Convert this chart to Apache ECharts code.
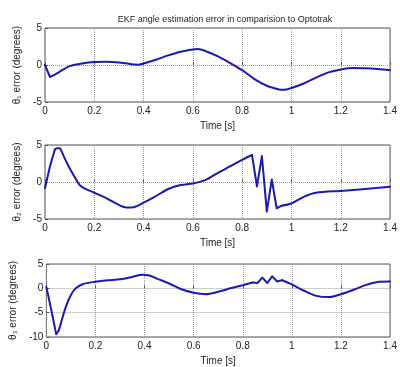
<!DOCTYPE html>
<html>
<head>
<meta charset="utf-8">
<script src="https://cdn.jsdelivr.net/npm/echarts@6/dist/echarts.min.js"></script>
<style>
  html, body { margin: 0; padding: 0; background: #fff; }
  #chart { width: 400px; height: 367px; }
</style>
</head>
<body>
<div id="chart"></div>
<script>
// angle error 1
const t1 = [0, 0.02, 0.04, 0.06, 0.08, 0.1, 0.15, 0.2, 0.25, 0.3, 0.35, 0.38, 0.4, 0.45, 0.5, 0.55, 0.6, 0.62, 0.65, 0.7, 0.75, 0.8, 0.85, 0.9, 0.95, 0.97, 1.0, 1.05, 1.1, 1.15, 1.2, 1.25, 1.3, 1.35, 1.4];
const e1 = [0, -1.6, -1.3, -0.9, -0.5, -0.15, 0.2, 0.4, 0.45, 0.35, 0.1, 0.05, 0.2, 0.7, 1.3, 1.8, 2.1, 2.15, 1.9, 1.2, 0.3, -0.7, -1.9, -2.8, -3.3, -3.35, -3.1, -2.5, -1.7, -1.0, -0.6, -0.4, -0.45, -0.55, -0.7];

// angle error 2
const t2 = [0, 0.02, 0.04, 0.05, 0.06, 0.065, 0.08, 0.1, 0.12, 0.14, 0.16, 0.2, 0.25, 0.3, 0.33, 0.36, 0.4, 0.45, 0.5, 0.55, 0.6, 0.65, 0.7, 0.75, 0.8, 0.84, 0.86, 0.88, 0.9, 0.92, 0.94, 0.96, 1.0, 1.05, 1.1, 1.2, 1.3, 1.4];
const e2 = [-0.8, 2.1, 4.4, 4.55, 4.55, 4.3, 3.2, 1.85, 0.7, -0.4, -0.85, -1.45, -2.2, -3.1, -3.45, -3.4, -2.8, -1.9, -0.95, -0.4, -0.2, 0.25, 1.2, 2.1, 3.0, 3.65, -0.6, 3.5, -4.0, 0.35, -3.55, -3.2, -2.9, -2.0, -1.45, -1.2, -0.95, -0.65];

// angle error 3
const t3 = [0, 0.02, 0.04, 0.05, 0.06, 0.08, 0.1, 0.12, 0.15, 0.2, 0.25, 0.3, 0.35, 0.39, 0.42, 0.45, 0.5, 0.55, 0.6, 0.65, 0.7, 0.75, 0.8, 0.84, 0.86, 0.88, 0.9, 0.92, 0.94, 0.96, 1.0, 1.05, 1.1, 1.15, 1.2, 1.25, 1.3, 1.35, 1.4];
const e3 = [0.3, -4.4, -9.4, -8.7, -7.0, -3.7, -1.35, 0, 0.9, 1.35, 1.65, 1.85, 2.35, 2.8, 2.65, 2.0, 1.0, -0.2, -0.9, -1.2, -0.7, 0, 0.65, 1.2, 1.1, 2.2, 1.1, 2.45, 1.4, 1.65, 0.8, -0.5, -1.55, -1.8, -1.2, -0.35, 0.65, 1.3, 1.4];

// index ranges drawn straight (sharp corners), the rest is smoothed
const sharp1 = [[0, 1]];
const sharp2 = [[0, 2], [25, 31]];
const sharp3 = [[0, 2], [23, 29]];

const xTicks = ["0", "0.2", "0.4", "0.6", "0.8", "1", "1.2", "1.4"];
const yNames = ["θ₁ error (degrees)", "θ₂ error (degrees)", "θ₃ error (degrees)"];
const yMins = [-5, -5, -10];
const yMaxs = [5, 5, 5];

const FONT = "Liberation Sans";
const tops = [28, 145, 264];
const heights = [74, 74, 75];
const series_t = [t1, t2, t3];
const series_e = [e1, e2, e3];
const sharps = [sharp1, sharp2, sharp3];

// split a curve into straight and smooth pieces
function pieces(n, sharp) {
  const out = [];
  let pos = 0;
  sharp.forEach(function (r) {
    if (r[0] > pos) out.push([pos, r[0], true]);
    out.push([r[0], r[1], false]);
    pos = r[1];
  });
  if (pos < n - 1) out.push([pos, n - 1, true]);
  return out;
}

const grids = [], xAxes = [], yAxes = [], series = [];
for (let i = 0; i < 3; i++) {
  grids.push({
    left: 45, right: 5, top: tops[i], height: heights[i],
    show: true, borderColor: "#555", borderWidth: 1, backgroundColor: "#fff"
  });
  xAxes.push({
    type: "value", gridIndex: i, min: 0, max: 1.4, interval: 0.2,
    name: "Time [s]", nameLocation: "middle", nameGap: 19,
    nameTextStyle: { fontFamily: FONT, fontSize: 10, color: "#222" },
    axisLine: { show: false },
    axisTick: { inside: true, length: 3, lineStyle: { color: "#555" } },
    axisLabel: {
      margin: 4, fontFamily: FONT, fontSize: 10, color: "#222",
      formatter: function (v) { return xTicks[Math.round(v / 0.2)]; }
    },
    splitLine: { show: true, lineStyle: { type: "dotted", color: "#999" } }
  });
  yAxes.push({
    type: "value", gridIndex: i, min: yMins[i], max: yMaxs[i], interval: 5,
    name: yNames[i], nameLocation: "middle", nameGap: 16, nameRotate: 90,
    nameTextStyle: { fontFamily: FONT, fontSize: 10, color: "#222" },
    axisLine: { show: false },
    axisTick: { inside: true, length: 3, lineStyle: { color: "#555" } },
    axisLabel: { margin: 3, fontFamily: FONT, fontSize: 10, color: "#222" },
    splitLine: { show: true, lineStyle: { type: "dotted", color: "#999" } }
  });
  const pts = series_t[i].map(function (t, j) { return [t, series_e[i][j]]; });
  pieces(pts.length, sharps[i]).forEach(function (p) {
    series.push({
      type: "line", xAxisIndex: i, yAxisIndex: i,
      data: pts.slice(p[0], p[1] + 1),
      showSymbol: false, smooth: p[2] ? 0.3 : false,
      lineStyle: { color: "#1a1ab0", width: 2, cap: "round", join: "round" },
      animation: false
    });
  });
}

const chart = echarts.init(document.getElementById("chart"));
chart.setOption({
  animation: false,
  title: {
    text: "EKF angle estimation error in comparision to Optotrak",
    left: 220, top: 10, textAlign: "center",
    textStyle: { fontFamily: FONT, fontSize: 9, fontWeight: "normal", color: "#222" }
  },
  grid: grids,
  xAxis: xAxes,
  yAxis: yAxes,
  series: series
});
</script>
</body>
</html>
